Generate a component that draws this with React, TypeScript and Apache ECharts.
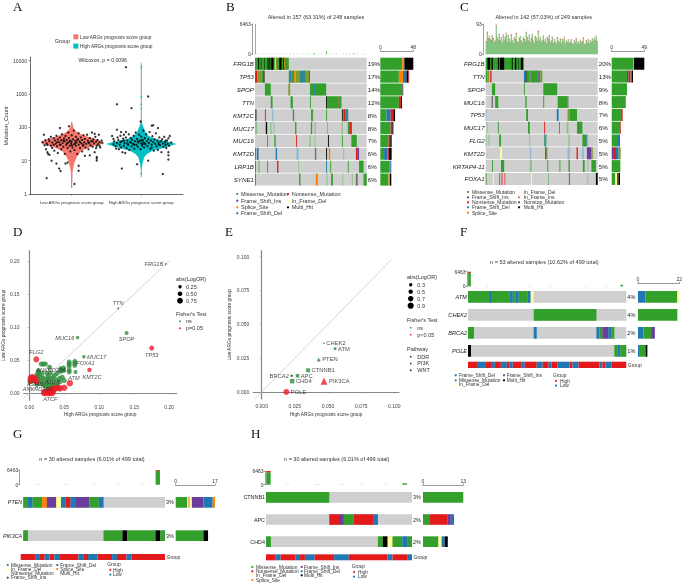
import React, { useEffect, useRef } from "react";
import * as echarts from "echarts";

const FONT = "Liberation Sans";
const PALETTE: Record<string, string> = {
  X: "#cfcfcf", M: "#33a02c", L: "#8cc388", N: "#e31a1c", I: "#6a3d9a", D: "#1f78b4", S: "#ff7f00", F: "#ffff99",
  G: "#e8727a", H: "#000000", O: "#7f9a2e", B: "#8fb9d6", P: "#6f6f6f", T: "#2b8a8f", R: "#e31a1c", W: "#1f78b4",
};
const KEYS = Object.keys(PALETTE);

// ---------- Panel A ----------
const violinLogLevels = [0.18, 0.5, 0.7, 0.95, 1.1, 1.2, 1.3, 1.4, 1.5, 1.56, 1.62, 1.7, 1.8, 1.9, 2.0, 2.15];
const violinLowWidth = [0.003, 0.006, 0.012, 0.04, 0.07, 0.1, 0.14, 0.25, 0.42, 0.44, 0.38, 0.25, 0.12, 0.05, 0.02, 0.004];
const violinHighLevels = [0.75, 0.9, 1.1, 1.2, 1.3, 1.4, 1.5, 1.56, 1.65, 1.75, 1.85, 2.0, 2.1, 2.2];
const violinHighWidth = [0.003, 0.015, 0.04, 0.08, 0.16, 0.35, 0.5, 0.4, 0.2, 0.1, 0.06, 0.03, 0.012, 0.003];
const lowPoints = [
  [0.64, 3], [1.04, 2], [0.83, 95], [0.96, 107], [0.71, 10], [0.78, 8.2], [0.82, 5.8], [0.84, 4.9], [0.91, 8.2], [0.94, 8.8], [1.1, 7], [1.1, 5],
  [1.19, 14], [1.26, 14.5], [1.36, 11.6], [1.36, 10.1], [1.36, 13], [1.33, 64], [0.58, 36], [0.6, 60], [0.62, 41], [0.64, 33], [0.65, 30], [0.67, 44],
  [0.68, 38], [0.7, 52], [0.7, 28], [0.72, 35], [0.72, 24], [0.74, 47], [0.75, 20], [0.76, 40], [0.77, 32], [0.78, 56], [0.79, 27], [0.8, 43], [0.8, 17],
  [0.82, 36], [0.83, 50], [0.83, 30], [0.85, 22], [0.85, 41], [0.86, 62], [0.87, 34], [0.88, 26], [0.89, 46], [0.9, 38], [0.9, 16], [0.91, 55], [0.92, 30],
  [0.93, 42], [0.94, 24], [0.95, 35], [0.95, 70], [0.96, 48], [0.97, 28], [0.98, 40], [0.98, 19], [0.99, 33], [1, 58], [1, 37], [1.01, 25], [1.02, 44],
  [1.03, 31], [1.03, 80], [1.04, 21], [1.05, 39], [1.06, 52], [1.06, 28], [1.07, 35], [1.08, 16], [1.09, 45], [1.1, 30], [1.1, 66], [1.11, 38], [1.12, 24],
  [1.13, 50], [1.14, 33], [1.15, 42], [1.15, 19], [1.16, 28], [1.17, 58], [1.18, 36], [1.19, 45], [1.2, 25], [1.21, 32], [1.22, 60], [1.23, 40], [1.24, 22],
  [1.25, 34], [1.26, 48], [1.27, 29], [1.28, 38], [1.29, 70], [1.3, 26], [1.31, 44], [1.32, 33], [1.33, 18], [1.34, 52], [1.35, 37], [1.36, 28], [1.37, 42],
  [1.38, 31], [1.39, 60], [1.4, 36], [1.41, 25], [1.43, 40], [1.44, 34], [0.63, 22], [0.65, 18], [0.66, 16], [0.68, 15], [0.61, 29], [0.74, 30], [0.88, 40],
  [0.93, 33], [1.0, 29], [1.05, 33], [1.12, 36], [1.17, 30], [1.24, 36], [1.3, 38], [1.35, 24], [1.4, 28], [0.79, 36], [0.84, 30], [0.97, 38], [1.08, 42],
];
const highPoints = [
  [1.78, 6400], [2.1, 840], [1.65, 490], [1.86, 375], [1.99, 150], [1.72, 5.8], [1.94, 7.8], [2.1, 10], [2.31, 4], [2.39, 14.5], [2.39, 10.8], [1.65, 85],
  [2.17, 115], [2.15, 112], [2.24, 95], [1.71, 72], [1.78, 72], [1.75, 60], [1.6, 45], [1.58, 55], [1.61, 38], [1.63, 27], [1.64, 23], [1.65, 34], [1.66, 50],
  [1.67, 42], [1.68, 22], [1.69, 30], [1.7, 56], [1.71, 25], [1.72, 38], [1.73, 18], [1.74, 46], [1.75, 28], [1.76, 34], [1.77, 17], [1.78, 50], [1.79, 24],
  [1.8, 40], [1.81, 30], [1.82, 62], [1.83, 21], [1.84, 36], [1.85, 48], [1.86, 27], [1.87, 42], [1.88, 32], [1.89, 56], [1.9, 23], [1.91, 38], [1.92, 70],
  [1.93, 30], [1.94, 45], [1.95, 26], [1.96, 35], [1.97, 60], [1.98, 40], [1.99, 22], [2, 33], [2, 52], [2.01, 28], [2.02, 42], [2.03, 80], [2.03, 36], [2.04, 25],
  [2.05, 47], [2.06, 31], [2.07, 62], [2.08, 38], [2.09, 27], [2.1, 44], [2.11, 34], [2.12, 72], [2.13, 23], [2.14, 40], [2.15, 30], [2.16, 54], [2.17, 36],
  [2.18, 20], [2.19, 44], [2.2, 32], [2.21, 66], [2.22, 27], [2.23, 40], [2.24, 21], [2.25, 35], [2.26, 50], [2.27, 29], [2.28, 38], [2.29, 18], [2.3, 44],
  [2.31, 33], [2.32, 26], [2.33, 52], [2.34, 36], [2.35, 30], [2.36, 24], [2.37, 40], [2.38, 32], [2.39, 47], [2.4, 28], [2.41, 55], [2.43, 35], [2.39, 18],
  [1.6, 31], [1.7, 36], [1.8, 33], [1.9, 30], [2.05, 33], [2.15, 25], [2.25, 31], [2.35, 40], [1.95, 38], [2.0, 40], [2.02, 31], [1.85, 35], [1.75, 40],
];
const highCenterDots = [[2, 6400], [2, 830], [2, 490], [2, 370], [2, 11], [2, 9], [2, 4]];

// ---------- Panel B ----------
const genesB = ["FRG1B", "TP53", "SPOP", "TTN", "KMT2C", "MUC17", "MUC16", "KMT2D", "LRP1B", "SYNE1"];
const pctB = ["19%", "17%", "14%", "12%", "8%", "8%", "7%", "6%", "6%", "6%"];
const rowsB: any[][] = [
  [[0, 75, "M"], [7, 9, "H"], [13, 14, "H"], [20, 21, "H"], [28, 30, "H"], [32, 34, "H"], [36, 41, "H"], [44, 46, "F"], [47, 48, "S"], [54, 59, "H"], [63, 65, "H"], [65, 67, "S"]],
  [[0, 2, "I"], [2, 5, "N"], [5, 15, "O"], [15, 19, "M"], [19, 21, "H"], [75, 78, "M"], [78, 81, "D"], [81, 87, "M"], [87, 90, "S"], [90, 100, "O"], [100, 111, "T"], [111, 120, "O"], [120, 122, "I"]],
  [[22, 35, "M"], [74, 78, "O"], [122, 131, "M"], [131, 133, "D"], [133, 158, "M"]],
  [[35, 39, "M"], [79, 84, "M"], [122, 124, "M"], [158, 160, "H"], [160, 169, "M"], [169, 171, "D"], [171, 186, "M"], [186, 188, "N"], [188, 192, "M"]],
  [[0, 2, "N"], [2, 4, "P"], [22, 24, "N"], [38, 41, "B"], [84, 86, "I"], [86, 87, "M"], [125, 127, "N"], [127, 129, "M"], [158, 160, "M"], [193, 195, "H"], [195, 197, "M"], [197, 200, "N"], [200, 207, "T"]],
  [[0, 5, "L"], [24, 27, "H"], [34, 37, "L"], [41, 43, "L"], [89, 92, "M"], [124, 127, "M"], [132, 135, "L"], [161, 162, "M"], [192, 195, "L"], [206, 211, "M"], [211, 215, "N"]],
  [[27, 29, "M"], [43, 46, "M"], [91, 93, "N"], [121, 124, "L"], [132, 134, "L"], [162, 164, "H"], [193, 195, "M"], [214, 215, "N"], [215, 226, "M"]],
  [[0, 1, "H"], [4, 8, "D"], [46, 49, "D"], [92, 97, "B"], [133, 136, "P"], [158, 160, "H"], [164, 167, "S"], [196, 198, "L"], [224, 227, "N"], [227, 231, "I"]],
  [[0, 1, "H"], [7, 11, "L"], [27, 29, "M"], [49, 52, "N"], [96, 98, "L"], [158, 160, "D"], [167, 169, "M"], [206, 208, "M"], [231, 241, "M"]],
  [[0, 1, "H"], [98, 101, "M"], [135, 138, "S"], [138, 139, "M"], [159, 161, "L"], [169, 173, "M"], [194, 196, "L"], [215, 217, "L"], [224, 228, "P"], [241, 248, "M"]],
];
const sideB: any[][] = [
  [["M", 32], ["S", 3], ["H", 13]],
  [["M", 27], ["S", 6], ["D", 5], ["H", 3], ["N", 1]],
  [["M", 31.5], ["P", 2]],
  [["M", 27], ["N", 3], ["H", 1.5]],
  [["M", 9], ["D", 6], ["N", 4], ["H", 2.5]],
  [["M", 15], ["N", 2.5], ["H", 1.5]],
  [["M", 12], ["N", 2.5], ["H", 2]],
  [["M", 5.5], ["D", 5], ["N", 2], ["H", 4]],
  [["M", 13.5], ["N", 1], ["D", 1.5]],
  [["M", 12], ["S", 2], ["H", 2]],
];
const topB = [[0, 6463], [158, 650], [132, 260], [221, 220], [5, 110], [12, 90], [19, 120], [26, 80], [33, 100], [41, 130], [48, 90], [55, 110], [62, 150], [70, 90], [78, 120], [85, 100], [93, 140], [100, 90], [108, 120], [115, 160], [122, 100], [129, 130], [140, 110], [147, 90], [165, 130], [172, 100], [180, 150], [187, 90], [195, 120], [203, 170], [210, 100], [217, 140], [228, 110], [235, 90], [242, 130]];
const topTipB = [[0, 200]];

// ---------- Panel C ----------
const genesC = ["FRG1B", "TTN", "SPOP", "MUC16", "TP53", "MUC17", "FLG2", "KMT2D", "KRTAP4-11", "FOXA1"];
const pctC = ["20%", "13%", "9%", "8%", "7%", "6%", "5%", "5%", "5%", "5%"];
const rowsC: any[][] = [
  [[0, 85, "M"], [4, 10, "H"], [13, 16, "H"], [27, 30, "H"], [32, 41, "H"], [58, 60, "H"], [65, 68, "H"], [73, 74, "H"], [78, 83, "H"]],
  [[0, 4, "M"], [4, 8, "O"], [10, 13, "N"], [85, 89, "D"], [89, 91, "H"], [91, 98, "M"], [98, 100, "P"], [100, 115, "M"], [115, 118, "I"], [118, 122, "M"], [122, 126, "O"]],
  [[14, 21, "M"], [85, 87, "M"], [128, 159, "M"]],
  [[13, 16, "P"], [21, 28, "M"], [88, 91, "M"], [128, 130, "M"], [160, 182, "M"], [182, 184, "P"]],
  [[0, 2, "B"], [90, 94, "M"], [158, 162, "D"], [182, 187, "O"], [187, 203, "M"]],
  [[2, 4, "L"], [27, 29, "M"], [94, 98, "M"], [130, 132, "N"], [163, 165, "M"], [180, 184, "L"], [203, 215, "M"]],
  [[0, 2, "L"], [6, 8, "L"], [30, 34, "M"], [97, 99, "L"], [130, 133, "T"], [133, 135, "M"], [184, 187, "L"], [215, 224, "M"], [224, 226, "D"]],
  [[32, 36, "F"], [98, 101, "B"], [132, 135, "N"], [135, 137, "M"], [182, 187, "B"], [202, 205, "N"], [214, 218, "B"], [225, 235, "I"], [235, 238, "O"]],
  [[14, 16, "M"], [34, 41, "M"], [98, 103, "L"], [137, 139, "M"], [164, 166, "M"], [184, 187, "M"], [216, 220, "M"], [226, 228, "L"], [235, 245, "M"]],
  [[0, 2, "M"], [16, 18, "F"], [30, 32, "M"], [34, 38, "G"], [41, 44, "G"], [101, 103, "F"], [139, 140, "M"], [185, 187, "I"], [226, 228, "L"], [245, 249, "H"]],
];
const sideC: any[][] = [
  [["M", 32.5], ["S", 1], ["H", 15.5]],
  [["M", 23], ["I", 2.5], ["N", 3], ["M", 1.5], ["H", 2]],
  [["M", 23]],
  [["M", 20.5], ["P", 1]],
  [["M", 14], ["D", 1.5], ["N", 1]],
  [["M", 13], ["N", 1]],
  [["M", 9.5], ["D", 3]],
  [["I", 2], ["N", 4.5], ["D", 4], ["O", 3]],
  [["M", 13]],
  [["M", 5.5], ["F", 2.5], ["N", 2], ["H", 2.5]],
];
const topC = [38, 66, 48, 56, 44, 40, 58, 46, 36, 42, 88, 52, 44, 60, 40, 50, 36, 58, 44, 52, 64, 38, 56, 46, 36, 60, 42, 34, 50, 44, 62, 38, 34, 48, 56, 42, 36, 52, 44, 38, 66, 50, 42, 58, 36, 46, 62, 40, 34, 54, 48, 38, 68, 44, 52, 36, 42, 56, 38, 46, 34, 50, 44, 58, 36, 40, 52, 34, 46, 38, 30, 50, 42, 36, 48, 32, 44, 38, 52, 32, 40, 36, 46, 30, 38, 44, 34, 28, 42, 36, 48, 32, 38, 30, 44, 34, 38, 50, 32, 28, 40, 36, 44, 32, 42, 34, 48, 38, 50, 42, 56, 40];
const topTipC = [2, 3, 2, 1, 2, 3, 1, 4, 2, 1, 3, 2, 1, 3, 2, 2, 1, 3, 1, 2, 2, 1, 3, 2, 1, 2, 3, 1, 2, 2, 4, 1, 2, 3, 1, 2, 1, 2, 3, 1, 3, 2, 1, 2, 2, 3, 1, 2, 1, 2, 3, 2, 4, 1, 2, 1, 3, 2, 1, 2, 1, 3, 2, 1, 2, 2, 3, 1, 2, 1, 2, 3, 1, 2, 1, 2, 3, 1, 2, 1, 2, 2, 1, 3, 1, 2, 1, 2, 3, 1, 2, 1, 2, 2, 1, 3, 1, 2, 1, 2, 3, 1, 2, 1, 2, 3, 1, 2, 1, 3, 2, 1];

// ---------- Panel D ----------
const dGreen = [[0.017, 0.044], [0.02, 0.044], [0.023, 0.044], [0.029, 0.039], [0.045, 0.037], [0.049, 0.038], [0.049, 0.034], [0.045, 0.033], [0.057, 0.047], [0.057, 0.044], [0.057, 0.041], [0.065, 0.048], [0.065, 0.045], [0.065, 0.042], [0.057, 0.035], [0.057, 0.032], [0.013, 0.034], [0.012, 0.03], [0.014, 0.028], [0.018, 0.03], [0.025, 0.03], [0.03, 0.03], [0.036, 0.027], [0.04, 0.03], [0.027, 0.025], [0.01, 0.026], [0.005, 0.022], [0.008, 0.02], [0.002, 0.02], [0.001, 0.017], [0.004, 0.019], [0.009, 0.017], [0.012, 0.022], [0.016, 0.024], [0.02, 0.023], [0.024, 0.021], [0.027, 0.019], [0.03, 0.022], [0.034, 0.023], [0.038, 0.02], [0.043, 0.022], [0.047, 0.024], [0.044, 0.017], [0.05, 0.019], [0.017, 0.018], [0.021, 0.016], [0.025, 0.014], [0.029, 0.013], [0.033, 0.015], [0.036, 0.012], [0.04, 0.014], [0.024, 0.01], [0.028, 0.009], [0.032, 0.009], [0.036, 0.008], [0.04, 0.01], [0.015, 0.015], [0.011, 0.013], [0.02, 0.012], [0.034, 0.005], [0.038, 0.006]];
const dRed = [[0.005, 0.024], [0.002, 0.023], [0.008, 0.022], [0.01, 0.018], [0.002, 0.019], [0.021, 0], [0.024, 0], [0.027, 0], [0.03, 0], [0.033, 0], [0.022, 0.002], [0.028, 0.003], [0.034, 0.003], [0.031, 0.005], [0.035, 0.006], [0.041, 0.008], [0.05, 0.008], [0.044, 0.007], [0.058, 0.015], [0.036, 0.007]];
const dGenes: any[][] = [
  ["FRG1B", 0.195, 0.195, 2, "M", "left", [0, 0]], ["TTN", 0.127, 0.128, 2, "M", "top", [0, 0]], ["SPOP", 0.139, 0.091, 4, "M", "bottom", [0, 0]], ["MUC16", 0.069, 0.084, 3.5, "M", "left", [0, 0]],
  ["TP53", 0.175, 0.068, 5, "N", "bottom", [0, 0]], ["FLG2", 0.01, 0.051, 6, "N", "top", [0, 0]], ["MUC17", 0.078, 0.055, 3.5, "M", "right", [0, 0]], ["FOXA1", 0.065, 0.046, 0, "M", "right", [0, 0]],
  ["KMT2C", 0.086, 0.035, 4.5, "N", "bottom", [2.5, 0]], ["ATM", 0.066, 0.032, 4, "M", "bottom", [-1.5, 0]], ["ATCF", 0.03, 0.001, 0, "M", "bottom", [0, 2]], ["ANKRD30A", 0.031, 0.035, 0, "M", "inside", [0, 0]],
  ["ASH1L", 0.0093, 0.0136, 0, "M", "inside", [0, 0]], ["ANKRD36C", 0.012, 0.006, 0, "M", "inside", [0, 0]], ["ATRX", 0.033, 0.016, 0, "M", "inside", [0, 0]],
];
const dTicks = [0, 0.05, 0.1, 0.15, 0.2];

// ---------- Panel E ----------
const eGenes: any[][] = [
  ["CHEK2", 0.047, 0.036, 1.5, "M", "rect", "right"], ["ATM", 0.0553, 0.032, 3, "M", "circle", "right"], ["PTEN", 0.043, 0.024, 4, "M", "triangle", "right"],
  ["CTNNB1", 0.035, 0.016, 4, "M", "rect", "right"], ["BRCA2", 0.0226, 0.012, 2.5, "H", "circle", "left"], ["APC", 0.027, 0.012, 3.5, "M", "rect", "right"],
  ["CHD4", 0.023, 0.008, 4.5, "M", "rect", "right"], ["PIK3CA", 0.047, 0.008, 7, "N", "triangle", "right"], ["POLE", 0.0186, 0, 6, "N", "circle", "right"],
];
const eTicks = [0, 0.025, 0.05, 0.075, 0.1];

// ---------- Panels F, G, H ----------
const genesF = ["ATM", "CHEK2", "BRCA2", "POLE"];
const pctF = ["4%", "4%", "2%", "1%"];
const rowsF: any[][] = [
  [[0, 7, "M"], [7, 8, "D"], [8, 14, "M"], [14, 15, "D"], [15, 16, "M"], [16, 17, "D"], [17, 20, "M"], [20, 21, "D"], [21, 22, "F"]],
  [[22, 43, "M"]],
  [[0, 2, "M"], [22, 23, "D"], [43, 44, "D"], [44, 45, "M"], [45, 47, "I"], [47, 48, "D"], [48, 49, "M"]],
  [[0, 1, "H"], [49, 50, "M"], [50, 51, "D"], [51, 53, "M"]],
];
const sideF: any[][] = [[["D", 4], ["M", 17], ["F", 1]], [["M", 21]], [["D", 3], ["M", 4], ["I", 2]], [["D", 1], ["M", 3], ["H", 1]]];
const groupF: any[] = [[0, 3, "R"], [3, 6, "W"], [6, 8, "R"], [8, 9, "W"], [9, 11, "R"], [11, 13, "W"], [13, 14, "R"], [14, 15, "W"], [15, 18, "R"], [18, 19, "W"], [19, 23, "R"], [23, 25, "W"], [25, 27, "R"], [27, 28, "W"], [28, 30, "R"], [30, 34, "W"], [34, 35, "R"], [35, 37, "W"], [37, 44, "R"], [44, 45, "W"], [45, 46, "R"], [46, 48, "W"], [48, 53, "R"]];
const topF = [[0, 5900], [51, 650], [6, 80], [14, 60], [20, 70], [27, 60], [33, 70], [39, 60], [46, 70]];
const topTipF = [[0, 560]];

const genesG = ["PTEN", "PIK3CA"];
const pctG = ["3%", "3%"];
const rowsG: any[][] = [
  [[0, 1, "M"], [1, 2, "D"], [2, 4, "M"], [4, 5, "S"], [5, 7, "I"], [7, 8, "F"], [8, 9, "D"], [9, 10, "N"], [10, 11, "D"], [11, 14, "I"], [14, 16, "M"], [16, 17, "D"]],
  [[0, 1, "M"], [17, 21, "M"], [21, 22, "H"], [22, 28, "M"], [28, 29, "H"], [29, 30, "M"]],
];
const sideG: any[][] = [[["M", 5], ["F", 0.6], ["N", 0.4], ["F", 1], ["I", 5], ["D", 4], ["S", 1]], [["M", 12], ["H", 2]]];
const groupG: any[] = [[0, 3, "R"], [3, 4, "W"], [4, 5, "R"], [5, 6, "W"], [6, 7, "R"], [7, 8, "W"], [8, 12, "R"], [12, 13, "W"], [13, 14, "R"], [14, 16, "W"], [16, 19, "R"], [19, 20, "W"], [20, 22, "R"], [22, 23, "W"], [23, 30, "R"]];
const topG = [[28, 6100], [3, 60], [9, 60], [15, 70], [20, 60], [25, 60]];
const topTipG = [[28, 360]];

const genesH = ["CTNNB1", "APC", "CHD4"];
const pctH = ["3%", "2%", "2%"];
const rowsH: any[][] = [
  [[0, 13, "M"]],
  [[13, 15, "N"], [15, 16, "I"], [16, 18, "M"], [18, 22, "N"], [22, 23, "D"]],
  [[0, 1, "M"], [23, 24, "M"], [24, 25, "H"], [25, 26, "F"], [26, 28, "M"], [28, 29, "D"], [29, 30, "M"]],
];
const sideH: any[][] = [[["M", 13]], [["M", 2], ["N", 6], ["I", 1], ["D", 1]], [["M", 5], ["F", 1], ["D", 1], ["H", 1]]];
const groupH: any[] = [[0, 2, "R"], [2, 3, "W"], [3, 6, "R"], [6, 7, "W"], [7, 8, "R"], [8, 10, "W"], [10, 14, "R"], [14, 17, "W"], [17, 25, "R"], [25, 26, "W"], [26, 29, "R"], [29, 30, "W"]];
const topH = [[0, 5900], [28, 700], [4, 60], [10, 70], [15, 60], [19, 70], [24, 60]];
const topTipH = [[0, 560]];

function buildOption() {
  const grid: any[] = [];
  const xAxis: any[] = [];
  const yAxis: any[] = [];
  const series: any[] = [];
  const elements: any[] = [];

  const addGrid = (rect: any, x: any, y: any) => {
    const i = grid.length;
    grid.push({ ...rect, containLabel: false });
    const xi = xAxis.length;
    xAxis.push({ splitLine: { show: false }, ...x, gridIndex: i });
    const yi = yAxis.length;
    yAxis.push({ splitLine: { show: false }, ...y, gridIndex: i });
    return { i, xi, yi };
  };
  const text = (x: number, y: number, t: string, opt: any = {}) =>
    elements.push({ type: "text", x, y, silent: true, z: 50, style: { text: t, fontFamily: FONT, fontSize: 5.5, fill: "#333", align: "left", verticalAlign: "middle", ...opt } });
  const dot = (cx: number, cy: number, r: number, fill: string) =>
    elements.push({ type: "circle", shape: { cx, cy, r }, silent: true, z: 50, style: { fill } });
  const box = (x: number, y: number, w: number, h: number, fill: string) =>
    elements.push({ type: "rect", shape: { x, y, width: w, height: h }, silent: true, z: 50, style: { fill } });

  const segSeries = (g: any, data: any[], ratio: number) => ({
    type: "custom", xAxisIndex: g.xi, yAxisIndex: g.yi, clip: false, silent: true, encode: { x: [0, 1], y: 2 }, data,
    renderItem: (_: any, api: any) => {
      const a = api.coord([api.value(0), api.value(2)]);
      const b = api.coord([api.value(1), api.value(2)]);
      const h = api.size([0, 1])[1] * ratio;
      return { type: "rect", shape: { x: a[0], y: a[1] - h / 2, width: b[0] - a[0], height: h }, style: { fill: PALETTE[KEYS[api.value(3)]] } };
    },
  });

  const sparse = (n: number, pairs: number[][]) => {
    const out = new Array(n).fill(0);
    pairs.forEach(([i, v]) => (out[i] = v));
    return out;
  };

  const oncoplot = (c: any) => {
    const m = addGrid(
      { left: c.x0, top: c.y0, width: c.x1 - c.x0, height: c.y1 - c.y0 },
      { type: "value", min: 0, max: c.n, show: false },
      { type: "category", inverse: true, data: c.genes, axisLine: { show: false }, axisTick: { show: false },
        axisLabel: { fontSize: c.geneSize, fontStyle: c.italic ? "italic" : "normal", color: "#222", margin: 1, fontFamily: FONT, interval: 0 } },
    );
    yAxis.push({ type: "category", gridIndex: m.i, position: "right", inverse: true, data: c.pct, splitLine: { show: false }, axisLine: { show: false }, axisTick: { show: false },
      axisLabel: { fontSize: c.geneSize, color: "#222", margin: 1, fontFamily: FONT, interval: 0 } });
    const pctAxis = yAxis.length - 1;
    const data: any[] = [];
    c.rows.forEach((row: any[], r: number) => {
      data.push([0, c.n, r, KEYS.indexOf("X")]);
      row.forEach(([a, b, k]: any) => data.push([a, b, r, KEYS.indexOf(k)]));
    });
    series.push(segSeries(m, data, c.ratio));
    series.push({ type: "custom", xAxisIndex: m.xi, yAxisIndex: pctAxis, data: [], silent: true, renderItem: () => null });

    const s = addGrid(
      { left: c.sx0, top: c.y0, width: c.sx1 - c.sx0, height: c.y1 - c.y0 },
      { type: "value", position: "top", min: 0, max: c.sideMax, interval: c.sideMax, offset: c.sideOffset,
        axisLine: { show: true, lineStyle: { color: "#555", width: 0.6 } }, axisTick: { show: true, length: 1.5, lineStyle: { color: "#555", width: 0.6 } },
        axisLabel: { fontSize: 5, color: "#333", margin: 2, fontFamily: FONT, showMinLabel: true, showMaxLabel: true } },
      { type: "category", inverse: true, data: c.genes, show: false },
    );
    const depth = Math.max(...c.side.map((r: any[]) => r.length));
    for (let k = 0; k < depth; k++) {
      series.push({
        type: "bar", name: "side" + k, stack: "side" + s.i, xAxisIndex: s.xi, yAxisIndex: s.yi, barWidth: (c.ratio * 100).toFixed(0) + "%", silent: true,
        data: c.side.map((r: any[]) => (r[k] ? { value: r[k][1], itemStyle: { color: PALETTE[r[k][0]] } } : { value: 0 })),
      });
    }

    const t = addGrid(
      { left: c.x0, top: c.ty0, width: c.x1 - c.x0, height: c.ty1 - c.ty0 },
      { type: "category", data: c.top.map((_: any, i: number) => String(i)), show: false },
      { type: "value", min: 0, max: c.topMax, interval: c.topMax, offset: c.topOffset,
        axisLine: { show: true, lineStyle: { color: "#777", width: 0.7 } }, axisTick: { show: true, length: 1.5, lineStyle: { color: "#777", width: 0.7 } },
        axisLabel: { fontSize: 5, color: "#333", margin: 1.5, fontFamily: FONT, formatter: (v: number) => String(v) } },
    );
    series.push({ type: "bar", stack: "top" + t.i, xAxisIndex: t.xi, yAxisIndex: t.yi, barCategoryGap: c.topGap, barMinWidth: 0.8, silent: true, itemStyle: { color: c.topColor || PALETTE.M }, data: c.top });
    series.push({ type: "bar", stack: "top" + t.i, xAxisIndex: t.xi, yAxisIndex: t.yi, barCategoryGap: c.topGap, barMinWidth: 0.8, silent: true, itemStyle: { color: PALETTE.N }, data: c.tip });

    if (c.group) {
      const gr = addGrid(
        { left: c.x0, top: c.gy0, width: c.x1 - c.x0, height: c.gy1 - c.gy0 },
        { type: "value", min: 0, max: c.n, show: false },
        { type: "category", data: ["Group"], position: "right", axisLine: { show: false }, axisTick: { show: false }, axisLabel: { fontSize: 5, color: "#333", margin: 1.5, fontFamily: FONT } },
      );
      series.push(segSeries(gr, c.group.map(([a, b, k]: any) => [a, b, 0, KEYS.indexOf(k)]), 1));
    }
    text(c.titleX, c.titleY, c.title, { align: "center", fontSize: 5.5 });
  };

  const legendList = (items: any[][], fontSize = 5.5) =>
    items.forEach(([mx, tx, y, label, col]: any) => { dot(mx, y, 1.1, col); text(tx, y, label, { fontSize }); });

  const letters: any[][] = [["A", 13, 6], ["B", 226, 6], ["C", 460, 6], ["D", 13, 231], ["E", 225, 231], ["F", 460, 231], ["G", 13, 433], ["H", 251, 433]];
  letters.forEach(([l, x, y]) => text(x, y, l, { fontFamily: "Liberation Serif", fontSize: 13, fill: "#111" }));

  // ---------- A ----------
  const a = addGrid(
    { left: 30, top: 57, width: 153, height: 137.7 },
    { type: "value", min: 0.4, max: 2.6,
      axisLine: { show: true, lineStyle: { color: "#444", width: 0.8 } },
      axisTick: { show: true, length: 1.5, customValues: [1, 2], lineStyle: { color: "#444", width: 0.6 } },
      axisLabel: { show: true, customValues: [1, 2], hideOverlap: false, fontSize: 4.3, color: "#333", margin: 6, fontFamily: FONT, formatter: (v: number) => (v === 1 ? "Low ARGs prognosis score group" : "High ARGs prognosis score group") } },
    { type: "value", min: -0.02, max: 4.11, name: "Mutation_Count", nameLocation: "middle", nameGap: 21, nameTextStyle: { fontSize: 5.5, color: "#333", fontFamily: FONT },
      axisLine: { show: true, lineStyle: { color: "#444", width: 0.8 } },
      axisTick: { show: true, length: 1.5, customValues: [0, 1, 2, 3, 4], lineStyle: { color: "#444", width: 0.6 } },
      axisLabel: { show: true, customValues: [0, 1, 2, 3, 4], fontSize: 5, color: "#333", margin: 3, fontFamily: FONT, formatter: (v: number) => String(Math.round(Math.pow(10, v))) } },
  );
  const violin = (center: number, levels: number[], widths: number[], fill: string, bottom: number, top: number) => ({
    type: "custom", xAxisIndex: a.xi, yAxisIndex: a.yi, silent: true, clip: false, z: 2, data: [[center, 1]], encode: { x: 0, y: 1 },
    renderItem: (_: any, api: any) => {
      const pts: number[][] = [];
      levels.forEach((l, i) => pts.push(api.coord([center + widths[i], l])));
      for (let i = levels.length - 1; i >= 0; i--) pts.push(api.coord([center - widths[i], levels[i]]));
      const p0 = api.coord([center, bottom]);
      const p1 = api.coord([center, top]);
      return { type: "group", children: [
        { type: "line", shape: { x1: p0[0], y1: p0[1], x2: p1[0], y2: p1[1] }, style: { stroke: "#777", lineWidth: 0.8 } },
        { type: "polygon", shape: { points: pts }, style: { fill, stroke: fill, lineWidth: 0.2 } },
      ] };
    },
  });
  series.push(violin(1, violinLogLevels, violinLowWidth, "#F8766D", 0.18, 2.15));
  series.push(violin(2, violinHighLevels, violinHighWidth, "#00BFC4", 0.5, 3.92));
  series.push({ type: "scatter", xAxisIndex: a.xi, yAxisIndex: a.yi, silent: true, z: 3, symbolSize: 2.2, itemStyle: { color: "#00BFC4", opacity: 0.55 }, data: highCenterDots.map(([x, c]) => [x, Math.log10(c)]) });
  series.push({ type: "scatter", xAxisIndex: a.xi, yAxisIndex: a.yi, silent: true, z: 4, symbolSize: 2.3, itemStyle: { color: "#000" }, data: lowPoints.map(([x, c]) => [x, Math.log10(c)]) });
  series.push({ type: "scatter", xAxisIndex: a.xi, yAxisIndex: a.yi, silent: true, z: 4, symbolSize: 2.3, itemStyle: { color: "#000" }, data: highPoints.map(([x, c]) => [x, Math.log10(c)]) });
  text(54.7, 41.3, "Group");
  box(73.3, 34.3, 5, 5, "#F8766D");
  box(73.3, 43.6, 5, 5, "#00BFC4");
  text(80, 37, "Low ARGs prognosis score group", { fontSize: 4.8 });
  text(80, 46.3, "High ARGs prognosis score group", { fontSize: 4.8 });
  text(102.7, 60, "Wilcoxon, p = 0.0096", { align: "center", fontSize: 5.2 });

  // ---------- B ----------
  oncoplot({
    x0: 255, x1: 366.7, y0: 57.3, y1: 186, ty0: 24, ty1: 54.3, sx0: 380.3, sx1: 413.3, n: 248, genes: genesB, pct: pctB, rows: rowsB, side: sideB, sideMax: 48, sideOffset: 6.2,
    top: sparse(248, topB), tip: sparse(248, topTipB), topMax: 6463, topOffset: 2.7, topGap: 0, ratio: 0.94, geneSize: 6.2, italic: true,
    title: "Altered in 157 (63.31%) of 248 samples", titleX: 316, titleY: 16.7,
  });
  legendList([
    [237.3, 241, 194, "Missense_Mutation", PALETTE.M], [288, 291.7, 194, "Nonsense_Mutation", PALETTE.N],
    [237.3, 241, 200.7, "Frame_Shift_Ins", PALETTE.I], [288, 291.7, 200.7, "In_Frame_Del", PALETTE.F],
    [237.3, 241, 207.3, "Splice_Site", PALETTE.S], [288, 291.7, 207.3, "Multi_Hit", PALETTE.H],
    [237.3, 241, 213.3, "Frame_Shift_Del", PALETTE.D],
  ]);

  // ---------- C ----------
  oncoplot({
    x0: 485.7, x1: 597.7, y0: 57.3, y1: 185.3, ty0: 24, ty1: 54.3, sx0: 611.7, sx1: 644.3, n: 249, genes: genesC, pct: pctC, rows: rowsC, side: sideC, sideMax: 49, sideOffset: 6.2,
    top: topC, tip: topTipC, topMax: 93, topOffset: 2.4, topGap: "8%", topColor: "#5aae55", ratio: 0.94, geneSize: 6.2, italic: true,
    title: "Altered in 142 (57.03%) of 249 samples", titleX: 543.7, titleY: 16.7,
  });
  legendList([
    [468, 472, 192, "Missense_Mutation", PALETTE.M], [519, 523.7, 192, "In_Frame_Del", PALETTE.F],
    [468, 472, 197.3, "Frame_Shift_Ins", PALETTE.I], [519, 523.7, 197.3, "In_Frame_Ins", PALETTE.G],
    [468, 472, 202.3, "Nonsense_Mutation", PALETTE.N], [519, 523.7, 202.3, "Nonstop_Mutation", "#555"],
    [468, 472, 207.3, "Frame_Shift_Del", PALETTE.D], [519, 523.7, 207.3, "Multi_Hit", PALETTE.H],
    [468, 472, 212.7, "Splice_Site", PALETTE.S],
  ], 5);

  // ---------- D ----------
  const tickAxis = (ticks: number[], digits: number, min: number, max: number, name: string, gap: number) => ({
    type: "value", min, max, name, nameLocation: "middle", nameGap: gap, nameTextStyle: { fontSize: 4.8, color: "#333", fontFamily: FONT },
    axisLine: { show: true, lineStyle: { color: "#888", width: 1.2 } },
    axisTick: { show: true, length: 1.5, customValues: ticks, lineStyle: { color: "#888", width: 0.6 } },
    axisLabel: { show: true, customValues: ticks, fontSize: 5, color: "#444", margin: 4, fontFamily: FONT, formatter: (v: number) => v.toFixed(digits) },
  });
  const d = addGrid({ left: 23.3, top: 250.7, width: 153.4, height: 149.6 },
    tickAxis(dTicks, 2, -0.0081, 0.2107, "High ARGs prognosis score group", 12),
    tickAxis(dTicks, 2, -0.011, 0.2155, "Low ARGs prognosis score group", 17));
  series.push({ type: "line", xAxisIndex: d.xi, yAxisIndex: d.yi, silent: true, symbol: "none", z: 1, lineStyle: { color: "#c9c9c9", width: 0.8 }, data: [[-0.008, -0.008], [0.2, 0.2]] });
  series.push({ type: "scatter", xAxisIndex: d.xi, yAxisIndex: d.yi, silent: true, z: 3, symbolSize: 5, itemStyle: { color: "#2e8b3d" }, data: dGreen });
  series.push({ type: "scatter", xAxisIndex: d.xi, yAxisIndex: d.yi, silent: true, z: 4, symbolSize: 6.4, itemStyle: { color: "#ee1c25" }, data: dRed });
  series.push({ type: "scatter", xAxisIndex: d.xi, yAxisIndex: d.yi, silent: true, z: 5,
    data: dGenes.map(([n, x, y, s, k, pos, off]) => ({
      value: [x, y], symbolSize: s, itemStyle: { color: k === "N" ? "#ee1c25" : "#2e8b3d" },
      label: { show: true, formatter: n, position: pos, offset: off, distance: 1.5, fontSize: 5.6, fontStyle: "italic", color: "#222", fontFamily: FONT },
    })) });
  text(176, 279, "abs(LogOR)");
  [[286.7, 1.7, "0.25"], [293.7, 2.3, "0.50"], [300.7, 2.9, "0.75"]].forEach(([y, r, l]: any) => { dot(180, y, r, "#000"); text(186, y, l); });
  text(176, 314, "Fisher's Test");
  dot(180, 321.3, 0.9, "#2e8b3d"); text(186, 321.3, "ns");
  dot(180, 328.3, 0.9, "#e8212b"); text(186, 328.3, "p=0.05");

  // ---------- E ----------
  const e = addGrid({ left: 253.3, top: 250.7, width: 145.7, height: 148.3 },
    tickAxis(eTicks, 3, -0.0063, 0.1035, "High ARGs prognosis score group", 13),
    tickAxis(eTicks, 3, -0.0052, 0.1044, "Low ARGs prognosis score group", 21));
  series.push({ type: "line", xAxisIndex: e.xi, yAxisIndex: e.yi, silent: true, symbol: "none", z: 1, lineStyle: { color: "#c9c9c9", width: 0.8 }, data: [[-0.005, -0.005], [0.098, 0.098]] });
  series.push({ type: "scatter", xAxisIndex: e.xi, yAxisIndex: e.yi, silent: true, z: 3,
    data: eGenes.map(([n, x, y, s, k, sym, pos]) => ({
      value: [x, y], symbol: sym, symbolSize: s, itemStyle: { color: k === "N" ? "#ee1c25" : k === "H" ? "#333" : "#2e8b3d" },
      label: { show: true, formatter: n, position: pos, distance: 1.5, fontSize: 5.8, color: "#222", fontFamily: FONT },
    })) });
  text(407, 277.3, "abs(LogOR)");
  [[284.7, 1.7, "0.3"], [291.7, 2.2, "0.5"], [298.7, 2.7, "0.7"], [305.7, 3.1, "0.9"]].forEach(([y, r, l]: any) => { dot(410.7, y, r, "#000"); text(417.3, y, l); });
  text(407, 320, "Fisher's Test");
  dot(410.7, 327.7, 0.8, "#2e8b3d"); text(417.3, 327.7, "ns");
  dot(410.7, 334.7, 0.8, "#e8212b"); text(417.3, 334.7, "p<0.05");
  text(407, 349, "Pathway");
  dot(410.7, 356.7, 0.8, "#222"); text(417.3, 356.7, "DDR");
  elements.push({ type: "polygon", silent: true, z: 50, shape: { points: [[410.7, 362.2], [409.6, 364.2], [411.8, 364.2]] }, style: { fill: "#222" } });
  text(417.3, 363.3, "PI3K");
  box(409.9, 369.5, 1.6, 1.6, "#222"); text(417.3, 370.3, "WNT");

  // ---------- F ----------
  oncoplot({
    x0: 468, x1: 626.3, y0: 287.85, y1: 359.85, ty0: 271.7, ty1: 286.3, sx0: 638, sx1: 681.7, n: 53, genes: genesF, pct: pctF, rows: rowsF, side: sideF, sideMax: 22, sideOffset: 4.5,
    top: sparse(53, topF), tip: sparse(53, topTipF), topMax: 6463, topOffset: 1, topGap: "10%", ratio: 0.65, geneSize: 5.6, italic: true,
    group: groupF, gy0: 361.7, gy1: 368,
    title: "n = 53 altered samples (10.62% of 499 total)", titleX: 544.3, titleY: 262,
  });
  legendList([
    [455.7, 459, 375.3, "Frame_Shift_Del", PALETTE.D], [504, 506.7, 375.3, "Frame_Shift_Ins", PALETTE.I],
    [455.7, 459, 380.3, "Missense_Mutation", PALETTE.M], [504, 506.7, 380.3, "Multi_Hit", PALETTE.H],
    [455.7, 459, 384.7, "In_Frame_Del", PALETTE.F],
  ], 4.8);
  text(553, 375, "Group", { fontSize: 4.8 });
  dot(556, 381, 1, PALETTE.R); text(560, 381, "High", { fontSize: 4.8 });
  dot(556, 385.7, 1, PALETTE.W); text(560, 385.7, "Low", { fontSize: 4.8 });

  // ---------- G ----------
  oncoplot({
    x0: 20.7, x1: 165, y0: 485.7, y1: 552.3, ty0: 470, ty1: 484.7, sx0: 175.7, sx1: 215, n: 30, genes: genesG, pct: pctG, rows: rowsG, side: sideG, sideMax: 17, sideOffset: 0.5,
    top: sparse(30, topG), tip: sparse(30, topTipG), topMax: 6463, topOffset: 1, topGap: "10%", ratio: 0.32, geneSize: 5.4, italic: true,
    group: groupG, gy0: 554, gy1: 560,
    title: "n = 30 altered samples (6.01% of 499 total)", titleX: 92, titleY: 459,
  });
  legendList([
    [7.7, 11, 565, "Missense_Mutation", PALETTE.M], [57.3, 60.3, 565, "Frame_Shift_Del", PALETTE.D],
    [7.7, 11, 569, "In_Frame_Del", PALETTE.F], [57.3, 60.3, 569, "Splice_Site", PALETTE.S],
    [7.7, 11, 573.3, "Nonsense_Mutation", PALETTE.N], [57.3, 60.3, 573.3, "Multi_Hit", PALETTE.H],
    [7.7, 11, 577.7, "Frame_Shift_Ins", PALETTE.I],
  ], 4.8);
  text(107.3, 564, "Group", { fontSize: 4.8 });
  dot(110.3, 570, 1, PALETTE.R); text(113, 570, "High", { fontSize: 4.8 });
  dot(110.3, 574.7, 1, PALETTE.W); text(113, 574.7, "Low", { fontSize: 4.8 });

  // ---------- H ----------
  oncoplot({
    x0: 266, x1: 412, y0: 486.3, y1: 552.75, ty0: 471, ty1: 484.7, sx0: 423, sx1: 463.3, n: 30, genes: genesH, pct: pctH, rows: rowsH, side: sideH, sideMax: 13, sideOffset: 1.3,
    top: sparse(30, topH), tip: sparse(30, topTipH), topMax: 6463, topOffset: 1, topGap: "10%", ratio: 0.48, geneSize: 5.4, italic: false,
    group: groupH, gy0: 554.3, gy1: 560.3,
    title: "n = 30 altered samples (6.01% of 499 total)", titleX: 336.7, titleY: 459,
  });
  legendList([
    [252.3, 256, 567, "Missense_Mutation", PALETTE.M], [301.7, 304, 567, "Frame_Shift_Ins", PALETTE.I],
    [252.3, 256, 571.3, "Nonsense_Mutation", PALETTE.N], [301.7, 304, 571.3, "Frame_Shift_Del", PALETTE.D],
    [252.3, 256, 575.3, "In_Frame_Del", PALETTE.F], [301.7, 304, 575.3, "Multi_Hit", PALETTE.H],
    [252.3, 256, 580, "Splice_Site", PALETTE.S],
  ], 4.8);
  text(351.7, 566.3, "Group", { fontSize: 4.8 });
  dot(354, 572, 1, PALETTE.R); text(358, 572, "High", { fontSize: 4.8 });
  dot(354, 576.7, 1, PALETTE.W); text(358, 576.7, "Low", { fontSize: 4.8 });

  return { animation: false, backgroundColor: "#fff", textStyle: { fontFamily: FONT }, grid, xAxis, yAxis, series, graphic: { elements } };
}

export default function App() {
  const ref = useRef<HTMLDivElement>(null);
  useEffect(() => {
    const chart = echarts.init(ref.current!, null, { renderer: "svg" });
    chart.setOption(buildOption() as any);
    return () => chart.dispose();
  }, []);
  return <div ref={ref} style={{ position: "absolute", left: 0, top: 0, width: 685, height: 583, filter: "blur(0.35px)" }} />;
}
